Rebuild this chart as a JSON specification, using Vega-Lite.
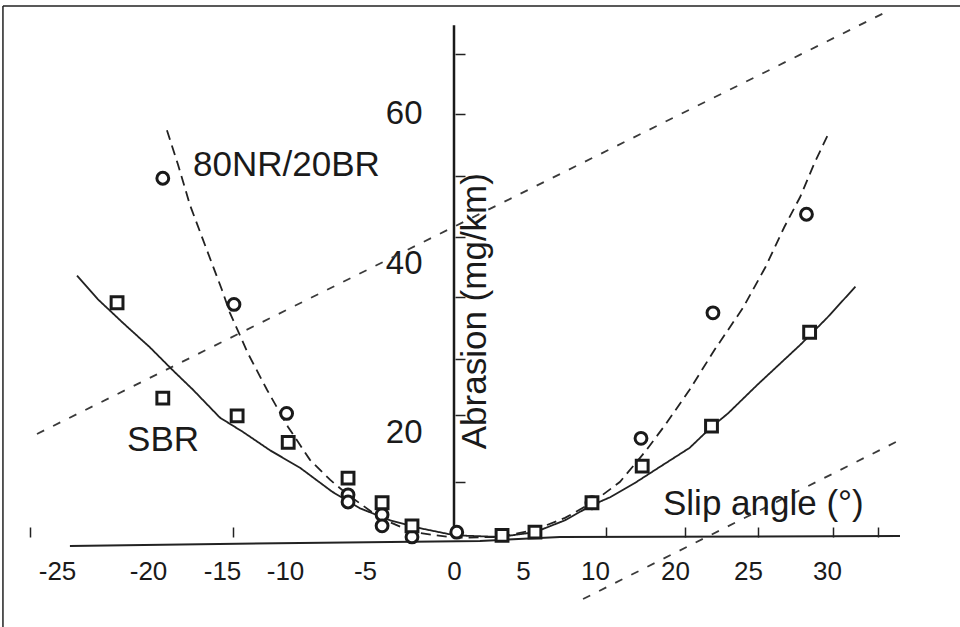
{
  "$schema": "https://vega.github.io/schema/vega-lite/v6.json",
  "width": 957,
  "height": 621,
  "autosize": "none",
  "padding": {"left": 3, "top": 6, "right": 0, "bottom": 0},
  "background": "white",
  "config": {
    "view": {"stroke": null},
    "font": "Liberation Sans"
  },
  "datasets": {
    "points": [
      {"series": "80NR/20BR", "angle": -19.0, "abrasion": 51.3},
      {"series": "80NR/20BR", "angle": -14.05, "abrasion": 35.1},
      {"series": "80NR/20BR", "angle": -9.9, "abrasion": 22.2},
      {"series": "80NR/20BR", "angle": -6.06, "abrasion": 12.1},
      {"series": "80NR/20BR", "angle": -6.06, "abrasion": 11.2},
      {"series": "80NR/20BR", "angle": -4.04, "abrasion": 9.6},
      {"series": "80NR/20BR", "angle": -4.04, "abrasion": 8.2},
      {"series": "80NR/20BR", "angle": -2.36, "abrasion": 6.8},
      {"series": "80NR/20BR", "angle": 0.2, "abrasion": 7.4},
      {"series": "80NR/20BR", "angle": 9.79, "abrasion": 11.1},
      {"series": "80NR/20BR", "angle": 15.75, "abrasion": 19.2},
      {"series": "80NR/20BR", "angle": 22.6, "abrasion": 34.1},
      {"series": "80NR/20BR", "angle": 28.7, "abrasion": 46.5},
      {"series": "SBR", "angle": -21.7, "abrasion": 35.3},
      {"series": "SBR", "angle": -19.0, "abrasion": 24.0},
      {"series": "SBR", "angle": -13.8, "abrasion": 21.9},
      {"series": "SBR", "angle": -9.8, "abrasion": 18.7},
      {"series": "SBR", "angle": -6.06, "abrasion": 14.2},
      {"series": "SBR", "angle": -4.04, "abrasion": 11.1},
      {"series": "SBR", "angle": -2.36, "abrasion": 8.2},
      {"series": "SBR", "angle": 3.48, "abrasion": 7.0},
      {"series": "SBR", "angle": 5.83, "abrasion": 7.4},
      {"series": "SBR", "angle": 9.79, "abrasion": 11.1},
      {"series": "SBR", "angle": 15.9, "abrasion": 15.7},
      {"series": "SBR", "angle": 22.5, "abrasion": 20.7},
      {"series": "SBR", "angle": 28.9, "abrasion": 31.8}
    ],
    "curves": [
      {"series": "80NR/20BR", "angle": -18.72, "abrasion": 57.7},
      {"series": "80NR/20BR", "angle": -17.97, "abrasion": 53.1},
      {"series": "80NR/20BR", "angle": -17.16, "abrasion": 47.7},
      {"series": "80NR/20BR", "angle": -16.15, "abrasion": 42.4},
      {"series": "80NR/20BR", "angle": -15.0, "abrasion": 36.8},
      {"series": "80NR/20BR", "angle": -14.37, "abrasion": 34.1},
      {"series": "80NR/20BR", "angle": -12.94, "abrasion": 29.3},
      {"series": "80NR/20BR", "angle": -11.43, "abrasion": 25.0},
      {"series": "80NR/20BR", "angle": -9.81, "abrasion": 20.6},
      {"series": "80NR/20BR", "angle": -8.44, "abrasion": 16.5},
      {"series": "80NR/20BR", "angle": -7.19, "abrasion": 14.0},
      {"series": "80NR/20BR", "angle": -6.06, "abrasion": 12.1},
      {"series": "80NR/20BR", "angle": -4.16, "abrasion": 9.2},
      {"series": "80NR/20BR", "angle": -2.3, "abrasion": 7.4},
      {"series": "80NR/20BR", "angle": 0.07, "abrasion": 6.7},
      {"series": "80NR/20BR", "angle": 3.33, "abrasion": 6.8},
      {"series": "80NR/20BR", "angle": 5.83, "abrasion": 7.7},
      {"series": "80NR/20BR", "angle": 7.92, "abrasion": 9.2},
      {"series": "80NR/20BR", "angle": 9.79, "abrasion": 11.1},
      {"series": "80NR/20BR", "angle": 13.1, "abrasion": 13.7},
      {"series": "80NR/20BR", "angle": 16.25, "abrasion": 17.5},
      {"series": "80NR/20BR", "angle": 18.75, "abrasion": 20.8},
      {"series": "80NR/20BR", "angle": 21.0, "abrasion": 25.0},
      {"series": "80NR/20BR", "angle": 22.7, "abrasion": 29.7},
      {"series": "80NR/20BR", "angle": 24.66, "abrasion": 34.7},
      {"series": "80NR/20BR", "angle": 26.1, "abrasion": 39.5},
      {"series": "80NR/20BR", "angle": 27.3, "abrasion": 44.8},
      {"series": "80NR/20BR", "angle": 28.3, "abrasion": 48.8},
      {"series": "80NR/20BR", "angle": 29.2, "abrasion": 53.3},
      {"series": "80NR/20BR", "angle": 30.06, "abrasion": 57.1},
      {"series": "SBR", "angle": -23.9, "abrasion": 38.5},
      {"series": "SBR", "angle": -22.75, "abrasion": 35.7},
      {"series": "SBR", "angle": -21.37, "abrasion": 32.9},
      {"series": "SBR", "angle": -19.86, "abrasion": 30.0},
      {"series": "SBR", "angle": -18.38, "abrasion": 27.4},
      {"series": "SBR", "angle": -16.96, "abrasion": 25.0},
      {"series": "SBR", "angle": -15.14, "abrasion": 21.7},
      {"series": "SBR", "angle": -13.33, "abrasion": 20.0},
      {"series": "SBR", "angle": -11.19, "abrasion": 17.7},
      {"series": "SBR", "angle": -9.06, "abrasion": 15.5},
      {"series": "SBR", "angle": -7.06, "abrasion": 12.5},
      {"series": "SBR", "angle": -5.31, "abrasion": 10.4},
      {"series": "SBR", "angle": -3.6, "abrasion": 8.9},
      {"series": "SBR", "angle": -1.91, "abrasion": 7.9},
      {"series": "SBR", "angle": 0.07, "abrasion": 7.0},
      {"series": "SBR", "angle": 3.33, "abrasion": 6.8},
      {"series": "SBR", "angle": 5.83, "abrasion": 7.4},
      {"series": "SBR", "angle": 7.92, "abrasion": 8.9},
      {"series": "SBR", "angle": 9.79, "abrasion": 10.8},
      {"series": "SBR", "angle": 11.9, "abrasion": 11.8},
      {"series": "SBR", "angle": 15.0, "abrasion": 13.6},
      {"series": "SBR", "angle": 18.4, "abrasion": 15.8},
      {"series": "SBR", "angle": 21.0, "abrasion": 18.0},
      {"series": "SBR", "angle": 22.5, "abrasion": 20.6},
      {"series": "SBR", "angle": 23.63, "abrasion": 22.2},
      {"series": "SBR", "angle": 25.6, "abrasion": 25.6},
      {"series": "SBR", "angle": 28.3, "abrasion": 30.3},
      {"series": "SBR", "angle": 30.0, "abrasion": 33.5},
      {"series": "SBR", "angle": 31.8, "abrasion": 37.2}
    ],
    "diagonals": [
      {"line": "a", "angle": -26.1, "abrasion": 19.75},
      {"line": "a", "angle": 33.99, "abrasion": 73.73},
      {"line": "b", "angle": 9.17, "abrasion": -1.01},
      {"line": "b", "angle": 34.62, "abrasion": 19.0}
    ],
    "xaxisline": [
      {"angle": -24.29, "abrasion": 5.66},
      {"angle": -9.06, "abrasion": 6.04},
      {"angle": 1.88, "abrasion": 6.29},
      {"angle": 7.57, "abrasion": 6.79},
      {"angle": 34.62, "abrasion": 6.92}
    ],
    "yaxisline": [
      {"angle": 0, "abrasion": 8.05, "abrasion_end": 71.7}
    ],
    "frame": [
      {"angle": -27.97, "angle_end": -27.97, "abrasion": -4.7, "abrasion_end": 74.27},
      {"angle": -27.97, "angle_end": 38.6, "abrasion": 74.27, "abrasion_end": 74.27}
    ],
    "notes": [
      {"angle": -16.96, "abrasion": 51.6, "note": "80NR/20BR"},
      {"angle": -21.15, "abrasion": 17.6, "note": "SBR"},
      {"angle": 18.5, "abrasion": 9.56, "note": "Slip angle (°)"}
    ],
    "ytitle": [
      {"angle": 2.3, "abrasion": 34.3, "note": "Abrasion (mg/km)"}
    ]
  },
  "encoding": {
    "x": {
      "field": "angle",
      "type": "quantitative",
      "scale": {
        "type": "linear",
        "domain": [-28, -25, -20, -15, -10, -5, 0, 5, 10, 20, 25, 30, 39],
        "range": [-0.6, 54, 145, 219, 282, 362, 451, 520, 592, 672, 745, 824, 966.2],
        "nice": false,
        "zero": false
      },
      "axis": {
        "orient": "bottom",
        "offset": -90,
        "values": [-26.48, -25, -20, -15, -14.13, -10, -5, 0, 5, 10, 11.38, 20, 20.68, 25, 25.63, 30, 30.38, 33.23],
        "labelExpr": "indexof([-25,-20,-15,-10,-5,0,5,10,20,25,30], datum.value) >= 0 ? '' + datum.value : ''",
        "tickSize": -10,
        "tickWidth": 1.5,
        "tickColor": "#222222",
        "tickOpacity": {"condition": {"test": "indexof([-25,-20,-15,-10,-5,0,5,10,20,25,30], datum.value) >= 0", "value": 0}, "value": 1},
        "labelPadding": 44,
        "labelBaseline": "middle",
        "labelFont": "Liberation Sans",
        "labelFontSize": 26,
        "labelColor": "#1a1a1a",
        "labelOverlap": false,
        "labelFlush": false,
        "labelBound": false,
        "domain": false,
        "grid": false,
        "title": null
      }
    },
    "y": {
      "field": "abrasion",
      "type": "quantitative",
      "scale": {
        "type": "linear",
        "domain": [-5, 0, 20, 40, 60, 75],
        "range": [624.75, 585, 426, 257, 107, -5.5],
        "nice": false,
        "zero": false
      },
      "axis": {
        "orient": "left",
        "offset": -452,
        "values": [13.7, 20, 22.0, 28.6, 36.0, 40, 43.5, 51.6, 59.9, 60, 67.9],
        "labelExpr": "indexof([20,40,60], datum.value) >= 0 ? '' + datum.value : ''",
        "tickSize": -10,
        "tickWidth": 1.5,
        "tickColor": "#222222",
        "tickOpacity": {"condition": {"test": "indexof([20,40,60], datum.value) >= 0", "value": 0}, "value": 1},
        "labelPadding": 43,
        "labelBaseline": "middle",
        "labelAlign": "right",
        "labelFont": "Liberation Sans",
        "labelFontSize": 33,
        "labelColor": "#1a1a1a",
        "labelOverlap": false,
        "labelFlush": false,
        "labelBound": false,
        "domain": false,
        "grid": false,
        "title": null
      }
    }
  },
  "layer": [
    {
      "data": {"name": "frame"},
      "mark": {"type": "rule", "color": "#222222", "strokeWidth": 1.5},
      "encoding": {"x2": {"field": "angle_end"}, "y2": {"field": "abrasion_end"}}
    },
    {
      "data": {"name": "diagonals"},
      "mark": {"type": "line", "color": "#3a3a3a", "strokeWidth": 1.8, "strokeDash": [8, 10]},
      "encoding": {"detail": {"field": "line", "type": "nominal"}}
    },
    {
      "data": {"name": "xaxisline"},
      "mark": {"type": "line", "color": "#222222", "strokeWidth": 2}
    },
    {
      "data": {"name": "yaxisline"},
      "mark": {"type": "rule", "color": "#1a1a1a", "strokeWidth": 2.5},
      "encoding": {"y2": {"field": "abrasion_end"}}
    },
    {
      "data": {"name": "curves"},
      "mark": {"type": "line", "color": "#222222", "strokeWidth": 1.8},
      "encoding": {
        "strokeDash": {
          "field": "series",
          "type": "nominal",
          "scale": {"domain": ["80NR/20BR", "SBR"], "range": [[10, 6], [1, 0]]},
          "legend": null
        }
      }
    },
    {
      "data": {"name": "points"},
      "mark": {"type": "point", "filled": true, "fill": "white", "stroke": "#1a1a1a", "strokeWidth": 3, "size": 140, "opacity": 1},
      "encoding": {
        "shape": {
          "field": "series",
          "type": "nominal",
          "scale": {"domain": ["80NR/20BR", "SBR"], "range": ["circle", "square"]},
          "legend": null
        }
      }
    },
    {
      "data": {"name": "notes"},
      "mark": {"type": "text", "align": "left", "baseline": "alphabetic", "font": "Liberation Sans", "fontSize": 35, "color": "#1a1a1a"},
      "encoding": {"text": {"field": "note"}}
    },
    {
      "data": {"name": "ytitle"},
      "mark": {"type": "text", "angle": 270, "align": "center", "baseline": "alphabetic", "font": "Liberation Sans", "fontSize": 35, "color": "#1a1a1a"},
      "encoding": {"text": {"field": "note"}}
    }
  ]
}
